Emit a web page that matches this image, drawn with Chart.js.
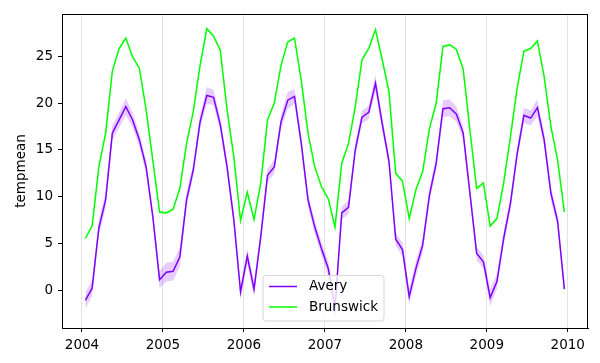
<!DOCTYPE html>
<html>
<head>
<meta charset="utf-8">
<script src="https://cdn.jsdelivr.net/npm/chart.js@4"></script>
<style>
  body { margin: 0; background: #fff; }
</style>
</head>
<body>
<canvas id="chart" width="600" height="363"></canvas>
<script>
// monthly means, Jan 2004 .. Dec 2009
const years = [2004, 2005, 2006, 2007, 2008, 2009];

const avery = [
  -1.0, 0.3, 6.7, 9.7, 16.8, 18.2, 19.6, 18.2, 16.1, 13.2, 7.9, 1.2,
  2.0, 2.1, 3.6, 9.7, 12.9, 18.0, 20.8, 20.6, 17.7, 13.2, 7.6, -0.1,
  3.7, 0.2, 5.8, 12.3, 13.2, 18.0, 20.3, 20.7, 15.7, 9.7, 6.8, 4.5,
  2.4, -1.8, 8.3, 8.9, 15.0, 18.5, 19.0, 22.1, 17.8, 13.8, 5.5, 4.4,
  -0.6, 2.4, 4.9, 10.2, 13.6, 19.4, 19.5, 18.8, 16.8, 10.4, 4.0, 3.1,
  -0.7, 1.0, 5.6, 9.3, 14.6, 18.7, 18.4, 19.5, 16.1, 10.4, 7.4, 0.2
];
// half width of the shaded band round Avery
const averyErr = [
  0.9, 0.8, 0.8, 0.8, 0.8, 0.8, 0.9, 0.8, 0.7, 0.7, 0.7, 0.9,
  1.0, 1.0, 1.0, 0.8, 0.7, 0.7, 0.9, 0.8, 0.7, 0.7, 0.7, 0.8,
  0.8, 0.8, 0.7, 0.7, 0.7, 0.7, 0.9, 0.8, 0.7, 0.7, 0.7, 0.7,
  0.8, 0.9, 0.7, 0.7, 0.7, 0.7, 0.7, 0.9, 0.7, 0.7, 0.7, 0.7,
  0.9, 0.8, 0.8, 0.7, 0.7, 0.9, 0.9, 0.8, 0.7, 0.7, 0.7, 0.7,
  0.9, 0.8, 0.7, 0.7, 0.7, 0.8, 0.8, 0.9, 0.7, 0.7, 0.7, 0.6
];

const brunswick = [
  5.6, 6.9, 13.2, 16.8, 23.4, 25.8, 26.9, 24.9, 23.7, 19.3, 13.9, 8.4,
  8.3, 8.7, 10.9, 15.7, 19.1, 24.0, 27.9, 27.1, 25.6, 19.3, 14.3, 7.5,
  10.5, 7.6, 11.5, 18.2, 20.0, 24.0, 26.5, 26.9, 22.4, 16.8, 13.2, 11.1,
  9.8, 6.8, 13.6, 15.7, 19.6, 24.6, 25.8, 27.8, 24.6, 21.2, 12.5, 11.7,
  7.7, 10.8, 12.7, 17.3, 20.0, 26.0, 26.2, 25.7, 23.6, 17.1, 10.9, 11.5,
  6.9, 7.7, 11.5, 16.4, 21.6, 25.5, 25.8, 26.6, 22.8, 17.5, 13.9, 8.4
];
const brunswickErr = 0.15;

const xTicks = [2004, 2005, 2006, 2007, 2008, 2009, 2010];
const yTicks = [0, 5, 10, 15, 20, 25];

const purple = '#8000ff';
const green = '#00ff00';

// mid-month position of every point, in years
const xs = [];
years.forEach(y => {
  for (let m = 0; m < 12; m++) xs.push(y + (m + 0.5) / 12);
});
const pts = (vals, off) => vals.map((v, i) => ({ x: xs[i], y: v + off(i) }));

const font = { family: 'DejaVu Sans', size: 13.5 };

const framePlugin = {
  id: 'frame',
  afterDatasetsDraw(chart) {
    const a = chart.chartArea, c = chart.ctx;
    c.save();
    c.strokeStyle = '#000';
    c.lineWidth = 1;
    c.strokeRect(Math.round(a.left) + 0.5, Math.round(a.top) + 0.5,
      Math.round(a.right - a.left) - 1, Math.round(a.bottom - a.top));
    c.restore();
  }
};

const legendPlugin = {
  id: 'boxLegend',
  afterDraw(chart) {
    const c = chart.ctx;
    const x = 263, y = 275.5, w = 121, h = 45.5;
    c.save();
    c.beginPath();
    c.roundRect(x, y, w, h, 3);
    c.fillStyle = 'rgba(255,255,255,0.8)';
    c.fill();
    c.strokeStyle = '#d6d6d6';
    c.lineWidth = 1;
    c.stroke();
    const items = [['Avery', purple, 286.5], ['Brunswick', green, 307]];
    c.font = '13.5px "DejaVu Sans"';
    c.textBaseline = 'middle';
    items.forEach(([label, col, ly]) => {
      c.strokeStyle = col;
      c.lineWidth = 1.5;
      c.beginPath();
      c.moveTo(269, ly);
      c.lineTo(297, ly);
      c.stroke();
      c.fillStyle = '#000';
      c.fillText(label, 309, ly);
    });
    c.restore();
  }
};

new Chart(document.getElementById('chart'), {
  type: 'line',
  data: {
    datasets: [
      { label: 'avery_lo', data: pts(avery, i => -averyErr[i]), borderWidth: 0, pointRadius: 0, fill: false, order: 2 },
      { label: 'avery_hi', data: pts(avery, i => averyErr[i]), borderWidth: 0, pointRadius: 0,
        fill: '-1', backgroundColor: 'rgba(128,0,255,0.2)', order: 2 },
      { label: 'bw_lo', data: pts(brunswick, () => -brunswickErr), borderWidth: 0, pointRadius: 0, fill: false, order: 2 },
      { label: 'bw_hi', data: pts(brunswick, () => brunswickErr), borderWidth: 0, pointRadius: 0,
        fill: '-1', backgroundColor: 'rgba(0,255,0,0.2)', order: 2 },
      { label: 'Avery', data: pts(avery, () => 0), borderColor: purple, borderWidth: 1.5, pointRadius: 0, fill: false, order: 0 },
      { label: 'Brunswick', data: pts(brunswick, () => 0), borderColor: green, borderWidth: 1.5, pointRadius: 0, fill: false, order: 1 }
    ]
  },
  options: {
    responsive: false,
    animation: false,
    devicePixelRatio: 1,
    layout: { padding: { left: 0, top: 14, right: 12, bottom: 0 } },
    plugins: { legend: { display: false }, tooltip: { enabled: false } },
    scales: {
      x: {
        type: 'linear',
        min: 2003.753,
        max: 2010.25,
        afterBuildTicks: s => { s.ticks = xTicks.map(v => ({ value: v })); },
        afterFit: s => { s.height = 35; },
        grid: { color: '#e3e3e3', lineWidth: 1, tickColor: '#000', tickLength: 4 },
        border: { color: '#000', width: 1 },
        ticks: { font, color: '#000', padding: 5, maxRotation: 0, callback: v => String(v) }
      },
      y: {
        min: -3.94,
        max: 29.47,
        afterBuildTicks: s => { s.ticks = yTicks.map(v => ({ value: v })); },
        afterFit: s => { s.width = 62; },
        grid: { drawOnChartArea: false, tickColor: '#000', tickLength: 4 },
        border: { color: '#000', width: 1 },
        ticks: { font, color: '#000', padding: 5 },
        title: { display: true, text: 'tempmean', font, color: '#000', padding: { top: 13, bottom: 0 } }
      }
    }
  },
  plugins: [framePlugin, legendPlugin]
});
</script>
</body>
</html>
